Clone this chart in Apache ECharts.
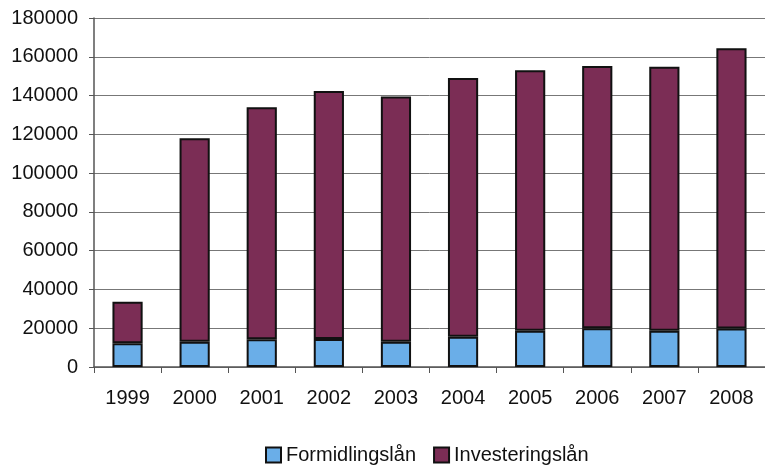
<!DOCTYPE html>
<html><head><meta charset="utf-8">
<script src="https://cdn.jsdelivr.net/npm/echarts@6/dist/echarts.min.js"></script>
<style>html,body{margin:0;padding:0;background:#fff}#c{width:765px;height:466px}</style>
</head><body><div id="c"></div>
<script>
const categories = ['1999','2000','2001','2002','2003','2004','2005','2006','2007','2008'];
const formidlingslan = [12200, 13000, 14300, 14400, 13000, 15600, 18700, 20000, 18700, 19800];
const investeringslan = [21500, 105000, 119700, 128000, 126500, 133400, 134400, 135300, 136100, 144600];
const seriesNames = ['Formidlingslån', 'Investeringslån'];

const font = 'Liberation Sans, Arial, sans-serif';
const chart = echarts.init(document.getElementById('c'));
chart.setOption({
  animation: false,
  backgroundColor: '#fff',
  grid: { left: 94, right: -8, top: 18, bottom: 99, containLabel: false },
  legend: {
    top: 440, left: 260,
    itemWidth: 15, itemHeight: 15, itemGap: 17,
    textStyle: { fontFamily: font, fontSize: 20, color: '#111' },
    data: seriesNames.map(n => ({ name: n, icon: 'rect' }))
  },
  xAxis: {
    type: 'category', data: categories,
    axisLine: { lineStyle: { color: '#555', width: 1.5 } },
    axisTick: { show: true, length: 6, lineStyle: { color: '#555' } },
    axisLabel: { fontFamily: font, fontSize: 20, color: '#111', margin: 21 }
  },
  yAxis: {
    type: 'value', min: 0, max: 180000, interval: 20000,
    axisLine: { show: true, lineStyle: { color: '#555', width: 1.5 } },
    axisTick: { show: true, length: 5, lineStyle: { color: '#555' } },
    axisLabel: { fontFamily: font, fontSize: 20, color: '#111', margin: 16,
      formatter: v => String(v) },
    splitLine: { lineStyle: { color: '#777', width: 1 } }
  },
  series: [
    { name: seriesNames[0], type: 'bar', stack: 't', data: formidlingslan, barWidth: '45%',
      itemStyle: { color: '#6aaee8', borderColor: '#111', borderWidth: 2 } },
    { name: seriesNames[1], type: 'bar', stack: 't', data: investeringslan, barWidth: '45%',
      itemStyle: { color: '#7b2d55', borderColor: '#111', borderWidth: 2 } }
  ]
});
</script></body></html>
